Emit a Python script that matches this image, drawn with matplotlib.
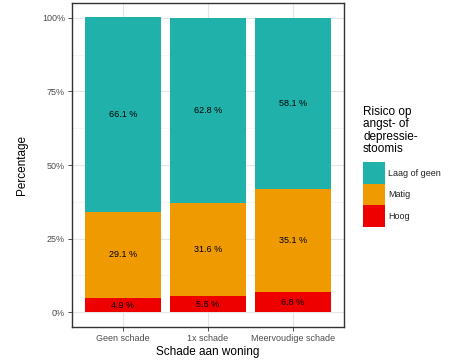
import matplotlib
matplotlib.use("Agg")
import matplotlib.pyplot as plt
import numpy as np

categories = ["Geen schade", "1x schade", "Meervoudige schade"]
laag = [66.1, 62.8, 58.1]
matig = [29.1, 31.6, 35.1]
hoog = [4.9, 5.6, 6.8]
series_names = ["Laag of geen", "Matig", "Hoog"]
colors = ["#20B2AA", "#EE9A00", "#EE0000"]
yticks = [0, 25, 50, 75, 100]
ytick_labels = ["0%", "25%", "50%", "75%", "100%"]

plt.rcParams['font.family'] = ['Liberation Sans', 'DejaVu Sans']

fig = plt.figure(figsize=(4.58, 3.64), dpi=100)
ax = fig.add_axes([72/458, 1 - 327/364, (344-72)/458, (327-3)/364])

x = np.arange(len(categories))
w = 0.9
bh = ax.bar(x, hoog, width=w, color=colors[2], zorder=2)
bm = ax.bar(x, matig, width=w, bottom=hoog, color=colors[1], zorder=2)
bl = ax.bar(x, laag, width=w, bottom=np.array(hoog) + np.array(matig), color=colors[0], zorder=2)

for i in range(len(categories)):
    ax.text(x[i], hoog[i] / 2, f"{hoog[i]:.1f} %", ha="center", va="center", fontsize=6.5, zorder=3)
    ax.text(x[i], hoog[i] + matig[i] / 2, f"{matig[i]:.1f} %", ha="center", va="center", fontsize=6.5, zorder=3)
    ax.text(x[i], hoog[i] + matig[i] + laag[i] / 2, f"{laag[i]:.1f} %", ha="center", va="center", fontsize=6.5, zorder=3)

ax.set_xlim(-0.6, 2.6)
ax.set_ylim(-5, 105)
ax.set_yticks(yticks)
ax.set_yticklabels(ytick_labels)
ax.set_yticks([12.5, 37.5, 62.5, 87.5], minor=True)
ax.set_xticks(x)
ax.set_xticklabels(categories)
ax.grid(True, which="major", color="#E5E5E5", linewidth=0.8, zorder=0)
ax.grid(True, which="minor", axis="y", color="#F2F2F2", linewidth=0.5, zorder=0)
ax.tick_params(axis="both", which="major", labelsize=6.5, colors="#333333", length=3, width=0.6, pad=2)
ax.tick_params(axis="y", which="minor", length=0)
for lab in ax.get_xticklabels() + ax.get_yticklabels():
    lab.set_color("#4D4D4D")
for s in ax.spines.values():
    s.set_color("#333333")
    s.set_linewidth(1.0)

ax.set_xlabel("Schade aan woning", fontsize=8.5, labelpad=2)
ax.set_ylabel("Percentage", fontsize=8.5, labelpad=10)

handles = [bl, bm, bh]
leg = fig.legend(handles, series_names, title="Risico op\nangst- of\ndepressie-\nstoomis",
                 loc="upper left", bbox_to_anchor=(363/458, 1 - 106/364), frameon=False,
                 fontsize=6.5, title_fontsize=8.5, handlelength=2.4, handleheight=3.3,
                 handletextpad=0.4, labelspacing=0.0, borderaxespad=0, borderpad=0)
leg._legend_box.align = "left"
leg._legend_box.sep = 5
leg.get_title().set_linespacing(1.05)
for t in leg.get_texts():
    t.set_color("#222222")

fig.savefig("out.png", dpi=100)
